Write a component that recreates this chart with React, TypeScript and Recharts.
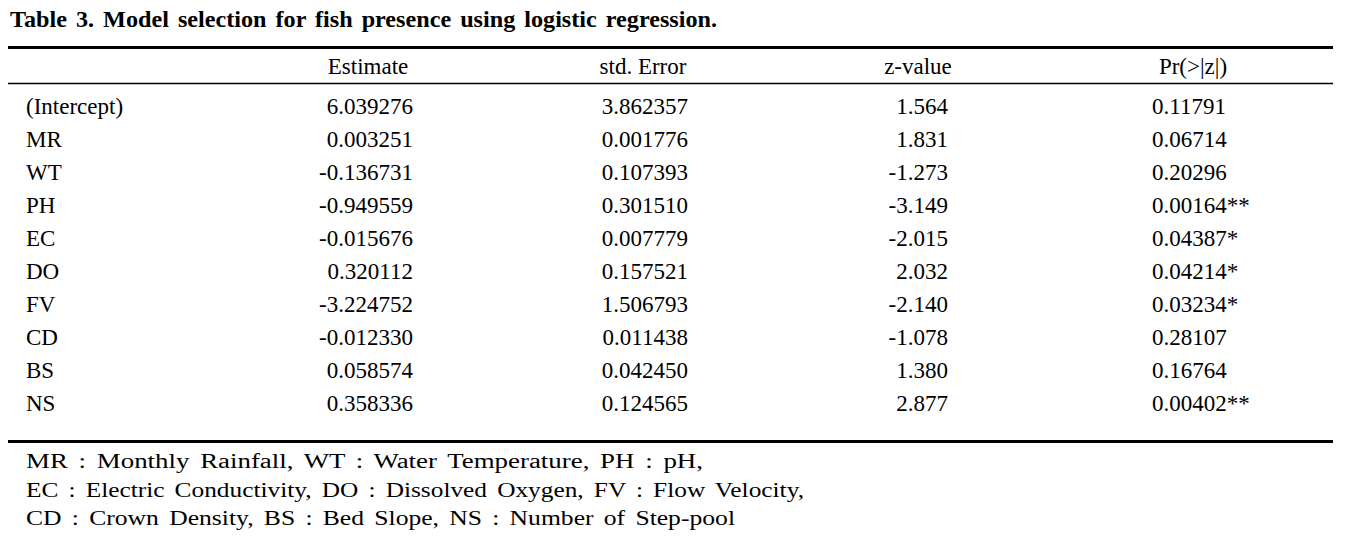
import React from "react";
import { ScatterChart, Scatter, XAxis, YAxis } from "recharts";

const title = "Table 3. Model selection for fish presence using logistic regression.";
const columns = ["Estimate", "std. Error", "z-value", "Pr(>|z|)"];
const rowNames = ["(Intercept)", "MR", "WT", "PH", "EC", "DO", "FV", "CD", "BS", "NS"];
const estimates = ["6.039276", "0.003251", "-0.136731", "-0.949559", "-0.015676", "0.320112", "-3.224752", "-0.012330", "0.058574", "0.358336"];
const stdErrors = ["3.862357", "0.001776", "0.107393", "0.301510", "0.007779", "0.157521", "1.506793", "0.011438", "0.042450", "0.124565"];
const zValues = ["1.564", "1.831", "-1.273", "-3.149", "-2.015", "2.032", "-2.140", "-1.078", "1.380", "2.877"];
const pValues = ["0.11791", "0.06714", "0.20296", "0.00164**", "0.04387*", "0.04214*", "0.03234*", "0.28107", "0.16764", "0.00402**"];
const footnotes = [
  "MR : Monthly Rainfall, WT : Water Temperature, PH : pH,",
  "EC : Electric Conductivity, DO : Dissolved Oxygen, FV : Flow Velocity,",
  "CD : Crown Density, BS : Bed Slope, NS : Number of Step-pool",
];

const columnValues = [estimates, stdErrors, zValues, pValues];
// layout: text anchor and offset from the column band centre
const columnStyle = [
  { anchor: "end", dx: 45 },
  { anchor: "end", dx: 45 },
  { anchor: "end", dx: 30 },
  { anchor: "start", dx: -41 },
];
const footnoteLengths = [677, 778, 709];

const FONT = "'Liberation Serif', 'Times New Roman', serif";
const BODY = 23;

const seriesData = columns.map((col, ci) =>
  rowNames.map((row, ri) => ({ col, row, text: columnValues[ci][ri] }))
);

const makeShape = (ci: number) => (props: any) => {
  const { cx, cy, payload } = props;
  const st = columnStyle[ci];
  return (
    <text
      x={cx + st.dx}
      y={cy + 7.5}
      textAnchor={st.anchor as any}
      fontFamily={FONT}
      fontSize={BODY}
      fill="#000"
    >
      {payload.text}
    </text>
  );
};

const HeaderTick = (props: any) => {
  const { x, payload } = props;
  return (
    <text x={x} y={74} textAnchor="middle" fontFamily={FONT} fontSize={BODY} fill="#000">
      {payload.value}
    </text>
  );
};

const RowTick = (props: any) => {
  const { y, payload } = props;
  return (
    <text x={26} y={y + 7.5} textAnchor="start" fontFamily={FONT} fontSize={BODY} fill="#000">
      {payload.value}
    </text>
  );
};

export default function App() {
  return (
    <div style={{ position: "absolute", left: 0, top: 0, width: 1353, height: 540, background: "#fff" }}>
      <ScatterChart width={1353} height={540} margin={{ top: 0, right: 22.5, bottom: 120, left: 0 }}>
        <XAxis
          xAxisId="c"
          type="category"
          dataKey="col"
          orientation="top"
          height={90}
          allowDuplicatedCategory={false}
          axisLine={false}
          tickLine={false}
          tick={<HeaderTick />}
          interval={0}
        />
        <YAxis
          yAxisId="r"
          type="category"
          dataKey="row"
          width={230.5}
          allowDuplicatedCategory={false}
          axisLine={false}
          tickLine={false}
          tick={<RowTick />}
          interval={0}
          reversed
        />
        {seriesData.map((d, ci) => (
          <Scatter
            key={ci}
            xAxisId="c"
            yAxisId="r"
            data={d}
            isAnimationActive={false}
            shape={makeShape(ci)}
          />
        ))}
        <g>
          <text x={10} y={27} fontFamily={FONT} fontSize={24} fontWeight="bold" fill="#000"
            textLength={707} lengthAdjust="spacingAndGlyphs" style={{ wordSpacing: 3 }}>
            {title}
          </text>
          <line x1={8} x2={1333} y1={47.5} y2={47.5} stroke="#000" strokeWidth={3} />
          <line x1={8} x2={1333} y1={83.5} y2={83.5} stroke="#000" strokeWidth={1.3} />
          <line x1={8} x2={1333} y1={441.5} y2={441.5} stroke="#000" strokeWidth={3} />
          {footnotes.map((t, i) => (
            <text key={i} x={26} y={468 + i * 28.5} fontFamily={FONT} fontSize={20} fill="#000"
              textLength={footnoteLengths[i]} lengthAdjust="spacingAndGlyphs" style={{ wordSpacing: 3 }}>
              {t}
            </text>
          ))}
        </g>
      </ScatterChart>
    </div>
  );
}
